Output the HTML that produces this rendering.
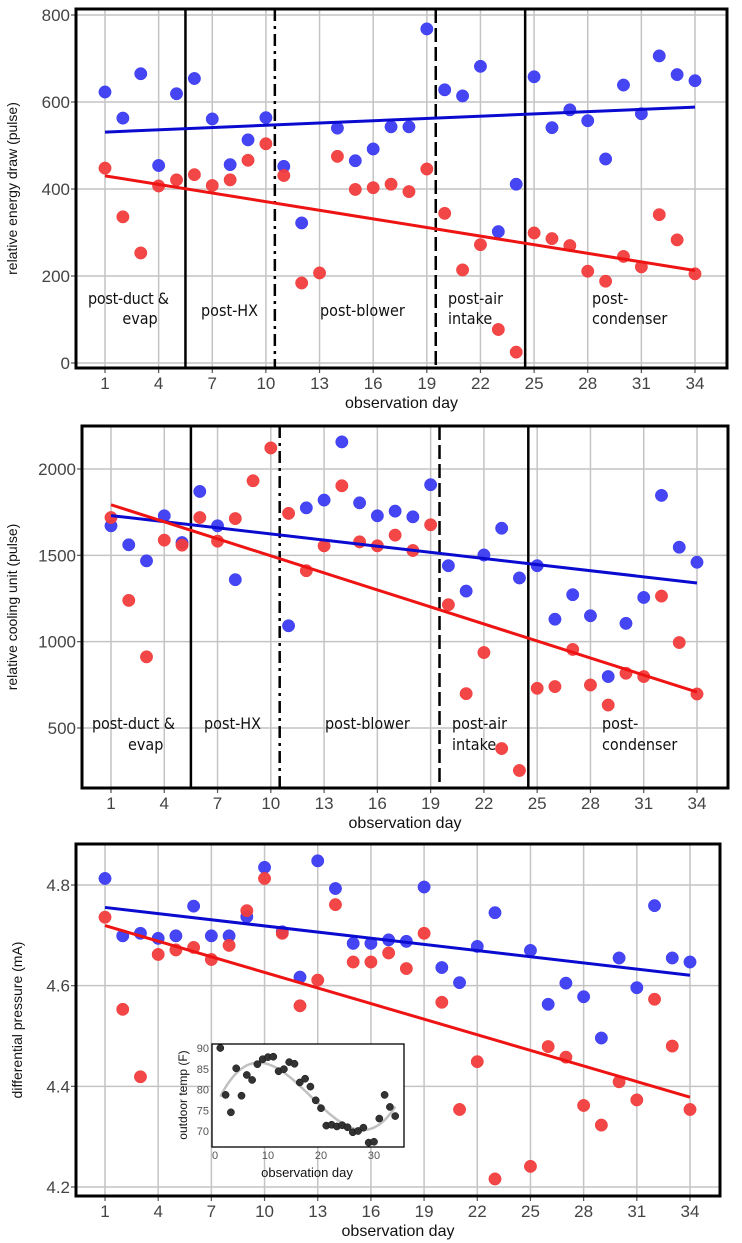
<!DOCTYPE html>
<html><head><meta charset="utf-8"><style>
html,body{margin:0;padding:0;background:#fff;}
svg{display:block;}
</style></head><body>
<svg id="chart" width="742" height="1243" viewBox="0 0 742 1243" xmlns="http://www.w3.org/2000/svg"></svg>
<script>
// ---------- data ----------
const days = [1,2,3,4,5,6,7,8,9,10,11,12,13,14,15,16,17,18,19,20,21,22,23,24,25,26,27,28,29,30,31,32,33,34];
const xTickLabels = [1,4,7,10,13,16,19,22,25,28,31,34];
const energyBlue = [623,563,665,454,619,654,561,456,513,564,452,322,null,540,465,492,543,543,768,628,614,682,302,411,658,541,582,557,469,639,573,706,663,649];
const energyRed = [448,336,253,407,421,433,408,421,466,504,431,184,207,475,399,403,411,394,446,344,214,272,77,25,299,286,270,211,188,245,221,341,283,205];
const energyTicks = [0,200,400,600,800];
const coolBlue = [1671,1561,1468,1729,1574,1870,1671,1359,null,null,1092,1775,1820,2157,1804,1729,1756,1723,1909,1440,1293,1502,1657,1369,1440,1130,1272,1150,798,1106,1256,1847,1547,1460];
const coolRed = [1719,1239,912,1588,1559,1719,1582,1713,1932,2122,1743,1411,1555,1903,1578,1555,1617,1528,1677,1214,699,937,381,254,730,740,955,749,633,817,798,1264,995,697];
const coolTicks = [500,1000,1500,2000];
const presBlue = [4.813,4.699,4.704,4.694,4.699,4.758,4.699,4.699,4.737,4.835,4.707,4.617,4.848,4.793,4.684,4.684,4.691,4.688,4.796,4.636,4.606,4.678,4.745,null,4.670,4.563,4.605,4.578,4.496,4.655,4.596,4.759,4.655,4.647];
const presRed = [4.736,4.553,4.419,4.662,4.671,4.676,4.652,4.680,4.749,4.813,4.704,4.560,4.611,4.761,4.647,4.647,4.665,4.634,4.704,4.567,4.354,4.449,4.216,null,4.241,4.479,4.458,4.362,4.323,4.409,4.373,4.573,4.480,4.354];
const presTicks = [4.2,4.4,4.6,4.8];
const tempValues = [90.0,78.7,74.5,85.1,78.5,83.5,82.3,86.1,87.3,87.8,87.9,84.4,84.9,86.6,86.2,81.7,82.6,80.7,77.4,75.5,71.3,71.5,71.1,71.4,70.9,69.7,70.0,70.8,67.2,67.4,73.0,78.7,75.8,73.6];
const tempTicks = [70,75,80,85,90];
const tempXTicks = [0,10,20,30];
const phaseBreaks = [5.5,10.5,19.5,24.5];
const phaseStyles = ["solid","dashdot","dashed","solid"];

const NS="http://www.w3.org/2000/svg";
const svg=document.getElementById('chart');
function el(tag,attrs,parent){const e=document.createElementNS(NS,tag);for(const k in attrs)e.setAttribute(k,attrs[k]);(parent||svg).appendChild(e);return e;}
function fit(xs,ys){let n=0,sx=0,sy=0,sxx=0,sxy=0;for(let i=0;i<xs.length;i++){if(ys[i]==null)continue;n++;sx+=xs[i];sy+=ys[i];sxx+=xs[i]*xs[i];sxy+=xs[i]*ys[i];}const b=(n*sxy-sx*sy)/(n*sxx-sx*sx);return {a:(sy-b*sx)/n,b:b};}
const NARROW='"Liberation Sans Narrow","Liberation Sans",sans-serif';

function panel(cfg){
  const g=el('g',{});
  
  
  const [L,T,R,B]=cfg.box;
  const xs=d=>cfg.x1+(d-1)*(cfg.x34-cfg.x1)/33;
  const ys=v=>cfg.py1+(v-cfg.v1)*(cfg.py2-cfg.py1)/(cfg.v2-cfg.v1);
  // grid
  xTickLabels.forEach(d=>{
    const l=el('line',{x1:xs(d),x2:xs(d),y1:T,y2:B,stroke:'#c4c4c4','stroke-width':1.5},g);
    
    
  });
  cfg.ticks.forEach(v=>{
    const l=el('line',{x1:L,x2:R,y1:ys(v),y2:ys(v),stroke:'#c4c4c4','stroke-width':1.5},g);
    
    
    el('line',{x1:L-5,x2:L,y1:ys(v),y2:ys(v),stroke:'#555','stroke-width':1.2},g);
    const t=el('text',{x:L-6,y:ys(v)+6,'text-anchor':'end','font-size':17,fill:'#444','font-family':NARROW},g);
    t.textContent=cfg.fmt(v);
    
    
  });
  xTickLabels.forEach(d=>{
    el('line',{x1:xs(d),x2:xs(d),y1:B,y2:B+5,stroke:'#555','stroke-width':1.2},g);
    const t=el('text',{x:xs(d),y:B+21,'text-anchor':'middle','font-size':17,fill:'#444','font-family':NARROW},g);
    t.textContent=d;
    
    
  });
  // phase lines
  if(cfg.phases){
    phaseBreaks.forEach((p,i)=>{
      const st=phaseStyles[i];
      const da=st==='dashed'?'14,5':st==='dashdot'?'12,5,3,5':'none';
      const l=el('line',{x1:xs(p),x2:xs(p),y1:T,y2:B,stroke:'#000','stroke-width':2.5,'stroke-dasharray':da},g);
      
      
    });
    cfg.labels.forEach(lb=>{
      const t=el('text',{x:lb[0],y:lb[1],'font-size':16,fill:'#111','font-family':'"DejaVu Sans Condensed","Liberation Sans Narrow",sans-serif','text-anchor':lb[3]||'start'},g);
      t.textContent=lb[2];
      if(lb[4])t.setAttribute('textLength',lb[4]);
      
      
    });
  }
  // points
  [[cfg.blue,'#3b3bf2','blue-point'],[cfg.red,'#f23c3c','red-point']].forEach(([arr,col,nm])=>{
    arr.forEach((v,i)=>{ if(v==null)return;
      const c=el('circle',{cx:xs(days[i]),cy:ys(v),r:6.2,fill:col,stroke:col,'stroke-width':0.5,'fill-opacity':0.95},g);
      
      
    });
  });
  // trend lines
  [[cfg.blue,'#0a0ad0','blue-trend-line'],[cfg.red,'#ee1414','red-trend-line']].forEach(([arr,col,nm])=>{
    const f=fit(days,arr);
    const l=el('line',{x1:xs(1),y1:ys(f.a+f.b*1),x2:xs(34),y2:ys(f.a+f.b*34),stroke:col,'stroke-width':3},g);
    
    
  });
  const bx=el('rect',{x:L,y:T,width:R-L,height:B-T,fill:'none',stroke:'#000','stroke-width':3},g);
  
  
  const xt=el('text',{x:(L+R)/2,y:B+40,'text-anchor':'middle','font-size':16,fill:'#111','font-family':NARROW},g);
  xt.textContent='observation day';
  
  
  const yt=el('text',{x:0,y:0,'text-anchor':'middle','font-size':14,fill:'#111','font-family':'"Liberation Sans",sans-serif',transform:`translate(${cfg.ytx},${(T+B)/2}) rotate(-90)`},g);
  yt.textContent=cfg.ytitle;
  
  
}

panel({name:'energy-panel',box:[76,9,727,368],x1:105,x34:695,v1:0,py1:363,v2:800,py2:15,ticks:energyTicks,fmt:v=>v,
  blue:energyBlue,red:energyRed,phases:true,ytx:17,ytitle:'relative energy draw  (pulse)',
  labels:[[88,304,'post-duct &',null,81],[140,324,'evap','middle'],[201,316,'post-HX'],[320,316,'post-blower'],[448,304,'post-air'],[448,324,'intake'],[592,304,'post-'],[592,324,'condenser']]});
panel({name:'cooling-panel',box:[82,426,728,788],x1:111,x34:697,v1:500,py1:728,v2:2000,py2:469,ticks:coolTicks,fmt:v=>v,
  blue:coolBlue,red:coolRed,phases:true,ytx:17,ytitle:'relative cooling unit (pulse)',
  labels:[[92,729,'post-duct &',null,83],[128,750,'evap'],[204,729,'post-HX'],[325,729,'post-blower'],[452,729,'post-air'],[452,750,'intake'],[602,729,'post-'],[602,750,'condenser']]});
panel({name:'pressure-panel',box:[76,844,720,1196],x1:105,x34:690,v1:4.2,py1:1187,v2:4.8,py2:885,ticks:presTicks,fmt:v=>v.toFixed(1),
  blue:presBlue,red:presRed,phases:false,ytx:22,ytitle:'differential pressure (mA)'});

// ---------- inset ----------
(function(){
  const g=el('g',{});
  
  
  const L=212,T=1044,R=404,B=1147;
  const xs=d=>215+d*(374-215)/30;
  const ys=v=>1131+(v-70)*(1048-1131)/20;
  el('rect',{x:L,y:T,width:R-L,height:B-T,fill:'#fff',stroke:'none'},g);
  // cubic smooth
  const n=4;const M=[...Array(n)].map(()=>Array(n+1).fill(0));
  days.forEach((d,i)=>{const p=[1,d,d*d,d*d*d];for(let r=0;r<n;r++){for(let c=0;c<n;c++)M[r][c]+=p[r]*p[c];M[r][n]+=p[r]*tempValues[i];}});
  for(let i=0;i<n;i++){let mx=i;for(let k=i+1;k<n;k++)if(Math.abs(M[k][i])>Math.abs(M[mx][i]))mx=k;[M[i],M[mx]]=[M[mx],M[i]];for(let k=0;k<n;k++){if(k===i)continue;const f=M[k][i]/M[i][i];for(let c=i;c<=n;c++)M[k][c]-=f*M[i][c];}}
  const co=M.map((r,i)=>r[n]/r[i]);
  let dstr='';for(let d=1;d<=34;d+=0.5){const v=co[0]+co[1]*d+co[2]*d*d+co[3]*d*d*d;dstr+=(dstr?'L':'M')+xs(d).toFixed(1)+','+ys(v).toFixed(1);}
  const sm=el('path',{d:dstr,fill:'none',stroke:'#c0c0c0','stroke-width':2.5},g);
  
  
  tempValues.forEach((v,i)=>{
    const c=el('circle',{cx:xs(days[i]),cy:ys(v),r:3.6,fill:'#333',stroke:'#111','stroke-width':0.5},g);
    
    
  });
  el('rect',{x:L,y:T,width:R-L,height:B-T,fill:'none',stroke:'#000','stroke-width':1.3},g);
  tempTicks.forEach(v=>{
    const t=el('text',{x:L-3,y:ys(v)+4,'text-anchor':'end','font-size':11,fill:'#555','font-family':NARROW},g);
    t.textContent=v;
    
    
  });
  tempXTicks.forEach(v=>{
    const t=el('text',{x:xs(v),y:B+12,'text-anchor':'middle','font-size':11,fill:'#555','font-family':NARROW},g);
    t.textContent=v;
    
    
  });
  const xt=el('text',{x:307,y:1177,'text-anchor':'middle','font-size':13,fill:'#111','font-family':NARROW},g);
  xt.textContent='observation day';
  
  
  const yt=el('text',{x:0,y:0,'text-anchor':'middle','font-size':12,fill:'#111','font-family':'"Liberation Sans",sans-serif',transform:'translate(187,1095) rotate(-90)'},g);
  yt.textContent='outdoor temp (F)';
  
  
})();
</script>
</body></html>
